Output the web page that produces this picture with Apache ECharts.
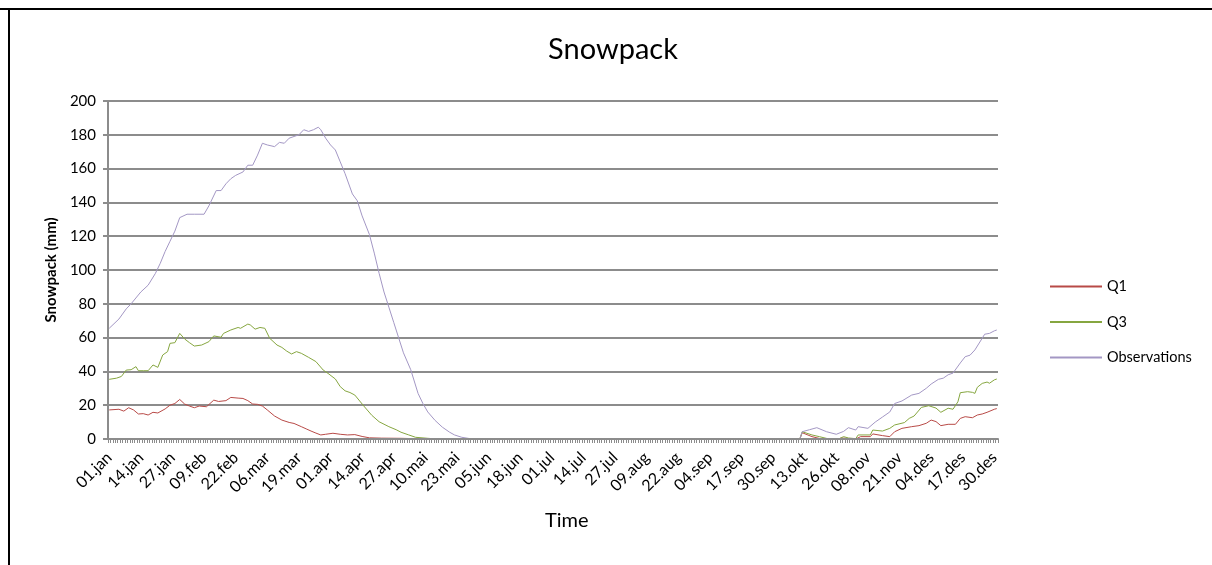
<!DOCTYPE html>
<html>
<head>
<meta charset="utf-8">
<script src="https://cdn.jsdelivr.net/npm/echarts@6/dist/echarts.min.js"></script>
<style>
html,body{margin:0;padding:0;background:#fff;}
#c{width:1212px;height:565px;}
</style>
</head>
<body>
<div id="c"></div>
<script>
// Category labels (leap year, daily)
const monthNames = ['jan','feb','mar','apr','mai','jun','jul','aug','sep','okt','nov','des'];
const monthLengths = [31,29,31,30,31,30,31,31,30,31,30,31];
const yTicks = [0,20,40,60,80,100,120,140,160,180,200];
const seriesNames = ['Q1','Q3','Observations'];

// Read-off points: day index (0 = 01.jan) and snowpack (mm)
const q1Days = [0,4,6,8,10,12,14,16,18,20,23,25,27,29,31,33,35,37,40,43,45,48,50,53,55,57,59,61,63,65,68,71,74,76,79,81,83,85,87,89,92,95,98,101,104,107,112,120,126,130,284,285,289,293,300,301,307,309,313,314,318,321,323,326,330,333,336,338,340,342,345,348,350,352,355,357,359,361,364,365];
const q1Vals = [17.2,17.6,16.5,18.5,17.2,14.8,15,14.2,15.8,15.4,17.8,20,21,23.4,20.7,19.5,18.5,19.5,19.1,23,22.2,22.7,24.6,24.2,24,22.7,20.7,20.5,19.5,17.2,13.6,11.2,9.8,9.2,7.3,6,4.7,3.5,2.4,2.8,3.4,2.8,2.4,2.6,1.5,0.7,0.5,0.4,0.2,0,0,3.7,1.4,0,0,0.6,0,1.4,1.4,3,2,1.4,4.3,6.3,7.3,7.9,9.3,11.2,10.3,7.9,8.7,8.7,12.2,13.2,12.6,14.2,14.8,15.8,17.6,18];

const q3Days = [0,3,5,7,9,11,12,14,16,18,20,22,24,25,27,29,31,33,35,38,41,43,46,47,50,53,54,57,58,60,62,64,66,69,71,73,75,77,79,82,85,88,90,93,95,97,99,101,103,105,108,111,115,118,120,123,126,131,135,284,285,289,292,296,300,302,304,307,308,313,314,318,321,323,327,329,331,334,337,340,342,345,347,349,350,353,355,356,357,359,361,362,364,365];
const q3Vals = [35.3,36,37,40.8,41,42.8,40.4,40.4,40.4,43.8,42.4,49.7,51.7,56.6,57,62.5,59.2,57,55,55.6,57.6,61,60.2,62.5,64.5,66,65.5,68,67.5,65,66,65.5,59.6,55.6,54.2,52,50.3,51.7,50.7,48.3,45.8,40.8,38.8,35.5,31,28.5,27.5,26,22.5,19,14,10.2,7.3,5.5,4,2.5,1,0.4,0,0,4.3,2.4,1.4,0,0,1.4,0.6,0.2,2.4,2.4,5.3,4.7,6.3,8.3,9.7,12.2,13.6,18.7,19.7,18.3,15.8,18.2,17.6,22,27.4,28,27.6,27,30.6,32.9,33.7,33,35,35.5];

const obsDays = [0,4,7,9,13,16,19,21,23,25,27,29,32,35,39,41,44,46,48,50,52,55,57,59,61,63,65,68,70,72,74,76,78,80,82,84,86,87,89,91,93,95,97,100,102,104,107,109,111,113,115,117,119,121,124,127,129,131,134,137,140,142,145,148,152,284,285,288,291,295,299,302,304,307,308,312,315,318,321,323,326,330,333,336,338,341,343,345,347,350,352,354,356,359,360,362,364,365];
const obsVals = [65.5,71,77,80,87,91,98,104,111,117,123,131,133,133,133,138,147,147,151,154,156,158,162,162,168,175,174,173,175.5,175,178,179,180,183,182,183,184.5,183,178,174,171,164,157,145,141,132,121,110,98,87,78,69,60,51,41,27,21,16,11,7,4,2.4,1,0.3,0,0,4.3,5.5,6.7,4.3,2.8,4.5,6.7,5.3,7.3,6.3,10,13,16,21,22.5,26,27,30,32.5,35.3,36,38,39,45,48.7,49.6,52.7,59.6,62,62.5,64,64.5];

const categories = [];
monthNames.forEach(function (m, mi) {
  for (let d = 1; d <= monthLengths[mi]; d++) {
    categories.push((d < 10 ? '0' + d : '' + d) + '.' + m);
  }
});

function pairs(days, vals) { return days.map(function (d, i) { return [d, vals[i]]; }); }

const colors = ['#b84a47', '#86a640', '#a397c4'];
const font = 'Lato, "Liberation Sans", sans-serif';

const chart = echarts.init(document.getElementById('c'), null, { renderer: 'canvas' });
chart.setOption({
  backgroundColor: '#fff',
  animation: false,
  color: colors,
  title: {
    text: 'Snowpack', left: 608, top: 30, textAlign: 'center',
    textStyle: { fontFamily: font, fontSize: 29, fontWeight: 'normal', color: '#000' }
  },
  legend: {
    orient: 'vertical', left: 1049, top: 279, padding: 0,
    itemWidth: 52, itemHeight: 16, itemGap: 20.5,
    data: seriesNames,
    itemStyle: { opacity: 0 },
    textStyle: { fontFamily: font, fontSize: 14.5, color: '#000', padding: [0, 0, 0, 0] }
  },
  grid: { left: 108, right: 214, top: 101, bottom: 126, containLabel: false },
  xAxis: {
    type: 'category', data: categories, boundaryGap: true, z: 5,
    axisLine: { lineStyle: { color: '#8c8c8c', width: 2 } },
    axisTick: { show: true, interval: 0, length: 4, lineStyle: { color: '#8c8c8c', width: 1 } },
    axisLabel: { interval: 12, rotate: 45, fontFamily: font, fontSize: 16, color: '#000', margin: 16 },
    splitLine: { show: false }
  },
  yAxis: {
    type: 'value', min: 0, max: 200, interval: 20,
    name: 'Snowpack (mm)', nameLocation: 'middle', nameGap: 47,
    nameTextStyle: { fontFamily: font, fontSize: 15, fontWeight: 'bold', color: '#000' },
    axisLine: { show: true, lineStyle: { color: '#8c8c8c', width: 2 } },
    axisTick: { show: true, length: 5, lineStyle: { color: '#8c8c8c', width: 2 } },
    axisLabel: { fontFamily: font, fontSize: 15, color: '#000', margin: 12,
      formatter: function (v) { return yTicks.indexOf(v) >= 0 ? String(v) : ''; } },
    splitLine: { lineStyle: { color: '#8c8c8c', width: 2 } }
  },
  graphic: [
    { type: 'line', shape: { x1: 0, y1: 9, x2: 1212, y2: 9 }, style: { stroke: '#000', lineWidth: 2 } },
    { type: 'line', shape: { x1: 9, y1: 9, x2: 9, y2: 565 }, style: { stroke: '#000', lineWidth: 2 } },
    { type: 'text', left: 545, top: 511,
      style: { text: 'Time', fontFamily: font, fontSize: 20, fill: '#000' } }
  ],
  series: [
    { name: 'Q1', type: 'line', symbol: 'none', data: pairs(q1Days, q1Vals), lineStyle: { width: 1, color: colors[0] } },
    { name: 'Q3', type: 'line', symbol: 'none', data: pairs(q3Days, q3Vals), lineStyle: { width: 1, color: colors[1] } },
    { name: 'Observations', type: 'line', symbol: 'none', data: pairs(obsDays, obsVals), lineStyle: { width: 1, color: colors[2] } }
  ]
});
</script>
</body>
</html>
